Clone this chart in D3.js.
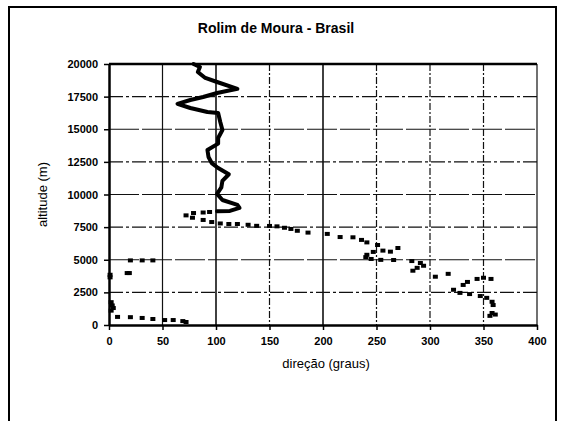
<!DOCTYPE html>
<html>
<head>
<meta charset="utf-8">
<script src="https://cdn.jsdelivr.net/npm/d3@7"></script>
<style>
  body { margin: 0; background: #fff; }
  svg { display: block; font-family: "Liberation Sans", Arial, sans-serif; }
</style>
</head>
<body>
<div class="chart"></div>
<script>
// values (direction in degrees, altitude in m)
const xTicks = [0, 50, 100, 150, 200, 250, 300, 350, 400];
const yTicks = [0, 2500, 5000, 7500, 10000, 12500, 15000, 17500, 20000];

// dense upper profile - looks like a continuous thick line
const upperDir = [79, 85, 83, 90, 101, 120, 101, 88, 76, 64, 76, 92, 102, 104, 106, 102, 102, 92, 93, 96, 102, 112, 106, 105, 101, 106, 120, 122, 113, 101];
const upperAlt = [20000, 19770, 19390, 18930, 18620, 18100, 17780, 17470, 17240, 16950, 16630, 16320, 16250, 15560, 14940, 14330, 13900, 13410, 12870, 12410, 12030, 11550, 11050, 10550, 10050, 9580, 9200, 8970, 8740, 8720];

// sparser points below ~8700 m, drawn as markers
const lowerDir = [94, 88, 79, 72, 78, 88, 96, 104, 112, 120, 130, 138, 150, 157, 164, 170, 176, 186, 204, 216, 228, 236, 241, 251, 256, 263, 270, 247, 241, 240, 245, 254, 266, 283, 291, 294, 288, 284, 305, 317, 335, 344, 350, 357, 331, 322, 328, 337, 347, 353, 358, 359, 358, 356, 361,
  41, 31, 20, 17, 19, 1, 1, 2, 3, 4, 2, 8, 20, 31, 41, 52, 60, 69, 72];
const lowerAlt = [8660, 8620, 8580, 8400, 8220, 8050, 7890, 7780, 7740, 7740, 7680, 7600, 7590, 7560, 7450, 7360, 7220, 7080, 6980, 6740, 6720, 6520, 6330, 6130, 5700, 5620, 5900, 5600, 5380, 5200, 5060, 4990, 4980, 4900, 4750, 4540, 4380, 4160, 3700, 3920, 3300, 3530, 3620, 3530, 3070, 2700, 2460, 2370, 2220, 2080, 1780, 1530, 920, 700, 800,
  4950, 4950, 4950, 3980, 3980, 3850, 3650, 1750, 1500, 1300, 1100, 620, 600, 540, 460, 380, 380, 300, 230];

const W = 565, H = 421;
const plot = {left: 109, right: 537, top: 64, bottom: 325};

const svg = d3.select('.chart').append('svg')
  .attr('width', W)
  .attr('height', H);

// outer frame of the excel chart
svg.append('rect')
  .attr('x', 9).attr('y', 7)
  .attr('width', 547).attr('height', 440)
  .attr('fill', 'none')
  .attr('stroke', '#000')
  .attr('stroke-width', 2);

const x = d3.scaleLinear().domain([0, 400]).range([plot.left, plot.right]);
const y = d3.scaleLinear().domain([0, 20000]).range([plot.bottom, plot.top]);

// gridlines (scan makes some look broken)
svg.append('g')
  .selectAll('line')
  .data(xTicks.slice(1))
  .join('line')
  .attr('x1', d => x(d)).attr('x2', d => x(d))
  .attr('y1', plot.top).attr('y2', plot.bottom)
  .attr('stroke', '#111')
  .attr('stroke-width', d => d === 100 || d === 200 ? 1.6 : 1.2)
  .attr('stroke-dasharray', d => (d === 50 || d === 100 || d === 200 || d === 400) ? null : '7,2,2,2');

svg.append('g')
  .selectAll('line')
  .data(yTicks.slice(1, -1))
  .join('line')
  .attr('x1', plot.left).attr('x2', plot.right)
  .attr('y1', d => y(d)).attr('y2', d => y(d))
  .attr('stroke', '#111')
  .attr('stroke-width', 1.2)
  .attr('stroke-dasharray', d => d % 5000 === 0 ? '30,3' : '14,3,3,3');

// plot border
svg.append('line')
  .attr('x1', plot.left).attr('x2', plot.right)
  .attr('y1', plot.top).attr('y2', plot.top)
  .attr('stroke', '#000').attr('stroke-width', 2.5);

// axes
const xAxis = svg.append('g')
  .attr('transform', `translate(0,${plot.bottom})`)
  .call(d3.axisBottom(x).tickValues(xTicks).tickFormat(d3.format('d')).tickSize(5).tickSizeOuter(0));
const yAxis = svg.append('g')
  .attr('transform', `translate(${plot.left},0)`)
  .call(d3.axisLeft(y).tickValues(yTicks).tickFormat(d3.format('d')).tickSize(5).tickSizeOuter(0));

[xAxis, yAxis].forEach(a => {
  a.select('.domain').attr('stroke', '#000').attr('stroke-width', 2.5);
  a.selectAll('.tick line').attr('stroke', '#000').attr('stroke-width', 1.5);
  a.selectAll('text')
    .attr('fill', '#000')
    .style('font-size', '11px')
    .style('font-weight', 'bold')
    .style('font-family', '"Liberation Sans", Arial, sans-serif');
});
xAxis.selectAll('text').attr('dy', '1.1em');
yAxis.selectAll('text').attr('x', -11);

// the profile
const line = d3.line()
  .x(d => x(d[0]))
  .y(d => y(d[1]))
  .curve(d3.curveLinear);

svg.append('path')
  .datum(upperDir.map((d, i) => [d, upperAlt[i]]))
  .attr('d', line)
  .attr('fill', 'none')
  .attr('stroke', '#000')
  .attr('stroke-width', 4)
  .attr('stroke-linejoin', 'round')
  .attr('stroke-linecap', 'round');

svg.append('g')
  .selectAll('rect')
  .data(lowerDir.map((d, i) => [d, lowerAlt[i]]))
  .join('rect')
  .attr('x', d => x(d[0]) - 2.5)
  .attr('y', d => y(d[1]) - 2)
  .attr('width', 5)
  .attr('height', 4)
  .attr('fill', '#000');

// titles
svg.append('text')
  .attr('x', 276).attr('y', 33)
  .attr('text-anchor', 'middle')
  .style('font-size', '14px')
  .style('font-weight', 'bold')
  .text('Rolim de Moura - Brasil');

svg.append('text')
  .attr('x', 326).attr('y', 368)
  .attr('text-anchor', 'middle')
  .style('font-size', '13px')
  .text('direção (graus)');

svg.append('text')
  .attr('transform', `translate(47,${(plot.top + plot.bottom) / 2}) rotate(-90)`)
  .attr('text-anchor', 'middle')
  .style('font-size', '13px')
  .text('altitude (m)');
</script>
</body>
</html>
